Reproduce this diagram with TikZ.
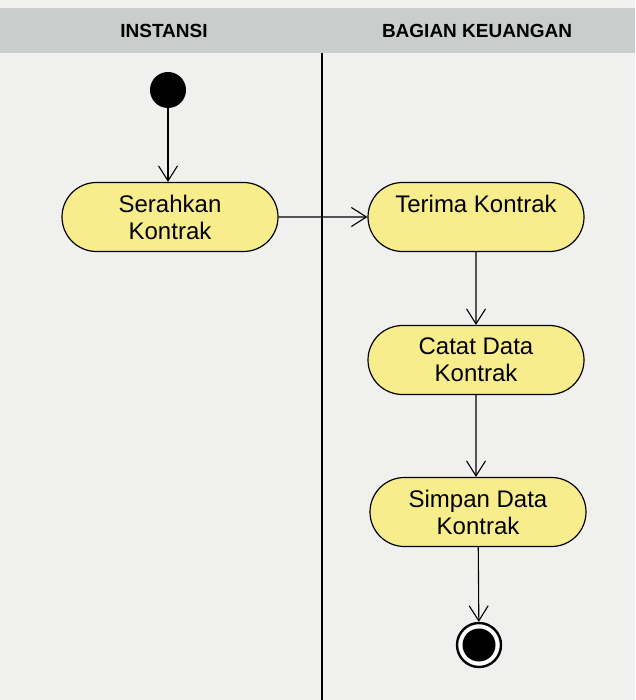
\documentclass[tikz,border=0pt]{standalone}
\usepackage{fontspec}
\setmainfont{Liberation Sans}
\usetikzlibrary{arrows.meta,shapes.misc}

\definecolor{latar}{RGB}{240,241,239}
\definecolor{kepala}{RGB}{201,205,204}
\definecolor{kuning}{RGB}{248,237,140}

\tikzset{
    aktivitas/.style={rounded rectangle, draw, line width=1.2pt, fill=kuning,
        minimum width=220pt, minimum height=69pt, inner sep=2pt, align=center,
        font=\fontsize{24}{27}\selectfont},
    panah/.style={-{Straight Barb[length=15pt,width=19pt,line width=1.1pt]}, line width=1.1pt},
    lajur/.style={font=\fontsize{19}{22}\selectfont\bfseries}
}

\begin{document}
\begin{tikzpicture}[x=1pt, y=-1pt]
    % background and swimlane header
    \fill[latar] (0,0) rectangle (635,700);
    \useasboundingbox (0,0) rectangle (635,700);
    \fill[kepala] (0,8) rectangle (635,53);
    \node[lajur] (instansi) at (164,31) {INSTANSI};
    \node[lajur] (keuangan) at (477,31) {BAGIAN KEUANGAN};
    \draw[line width=1.1pt] (322,53) -- (322,700);

    % start and end points
    \node[circle, fill=black, minimum size=36pt, inner sep=0pt] (mulai) at (168,90) {};
    \node[circle, draw, line width=2.4pt, fill=white, minimum size=44pt, inner sep=0pt] (akhir) at (479,645) {};
    \fill (akhir.center) circle (16.5pt);

    % activities
    \node[aktivitas] (serahkan) at (170,217) {Serahkan\\Kontrak};
    \node[aktivitas] (terima) at (476,217) {Terima Kontrak\\~};
    \node[aktivitas] (catat) at (476,360) {Catat Data\\Kontrak};
    \node[aktivitas] (simpan) at (478,512) {Simpan Data\\Kontrak};

    % flows
    \draw[panah] (mulai) -- (mulai |- serahkan.north);
    \draw[panah] (serahkan) -- (terima);
    \draw[panah] (terima) -- (terima |- catat.north);
    \draw[panah] (catat) -- (catat |- simpan.north);
    \draw[panah] (simpan) -- (akhir);
\end{tikzpicture}
\end{document}
